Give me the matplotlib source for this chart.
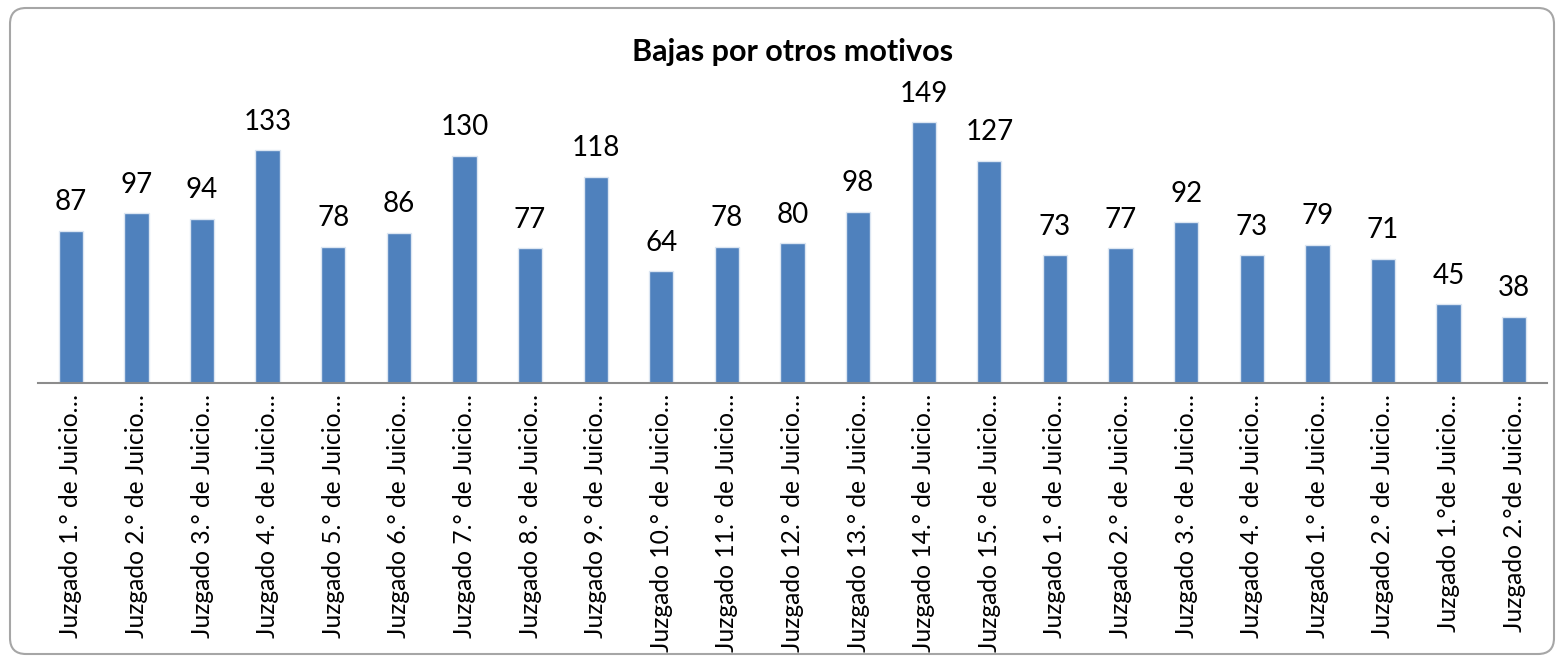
import numpy as np
import matplotlib.pyplot as plt
from matplotlib.patches import FancyBboxPatch

plt.rcParams['font.family'] = ['Lato', 'DejaVu Sans']

title = "Bajas por otros motivos"
labels = [
    "Juzgado 1.° de Juicio…", "Juzgado 2.° de Juicio…", "Juzgado 3.° de Juicio…",
    "Juzgado 4.° de Juicio…", "Juzgado 5.° de Juicio…", "Juzgado 6.° de Juicio…",
    "Juzgado 7.° de Juicio…", "Juzgado 8.° de Juicio…", "Juzgado 9.° de Juicio…",
    "Juzgado 10.° de Juicio…", "Juzgado 11.° de Juicio…", "Juzgado 12.° de Juicio…",
    "Juzgado 13.° de Juicio…", "Juzgado 14.° de Juicio…", "Juzgado 15.° de Juicio…",
    "Juzgado 1.° de Juicio…", "Juzgado 2.° de Juicio…", "Juzgado 3.° de Juicio…",
    "Juzgado 4.° de Juicio…", "Juzgado 1.° de Juicio…", "Juzgado 2.° de Juicio…",
    "Juzgado 1.°de Juicio…", "Juzgado 2.°de Juicio…",
]
values = [87, 97, 94, 133, 78, 86, 130, 77, 118, 64, 78, 80, 98, 149, 127,
          73, 77, 92, 73, 79, 71, 45, 38]

fig = plt.figure(figsize=(15.62, 6.62), dpi=100)

# rounded chart border (drawn in pixel units)
border = FancyBboxPatch((10, 8), 1544, 646,
                        boxstyle="round,pad=0,rounding_size=16",
                        transform=None, facecolor="none",
                        edgecolor="#a6a6a6", linewidth=1.5, zorder=-1)
fig.patches.append(border)

ax = fig.add_axes([38 / 1562, (662 - 383) / 662, (1547 - 38) / 1562, 280 / 662])
ax.patch.set_alpha(0)

x = np.arange(len(values))
ax.bar(x, values, width=0.37, color="#4F81BD", edgecolor="#dce6f2", linewidth=1)

for xi, v in zip(x, values):
    ax.annotate(str(v), (xi, v), xytext=(0, 11), textcoords="offset points",
                ha="center", va="bottom", fontsize=20, color="black",
                annotation_clip=False)

ax.set_xlim(-0.5, len(values) - 0.5)
ax.set_ylim(0, 160)
ax.set_yticks([])
ax.set_xticks(x)
ax.set_xticklabels(labels, rotation=90, fontsize=17.7)
ax.tick_params(axis="x", length=0, pad=8)
for s in ["top", "right", "left"]:
    ax.spines[s].set_visible(False)
ax.spines["bottom"].set_color("#8c8c8c")
ax.spines["bottom"].set_linewidth(1.5)

fig.text(793 / 1562, 1 - 52 / 662, title, ha="center", va="center",
         fontsize=22, fontweight="bold")

fig.savefig("out.png", dpi=100)
